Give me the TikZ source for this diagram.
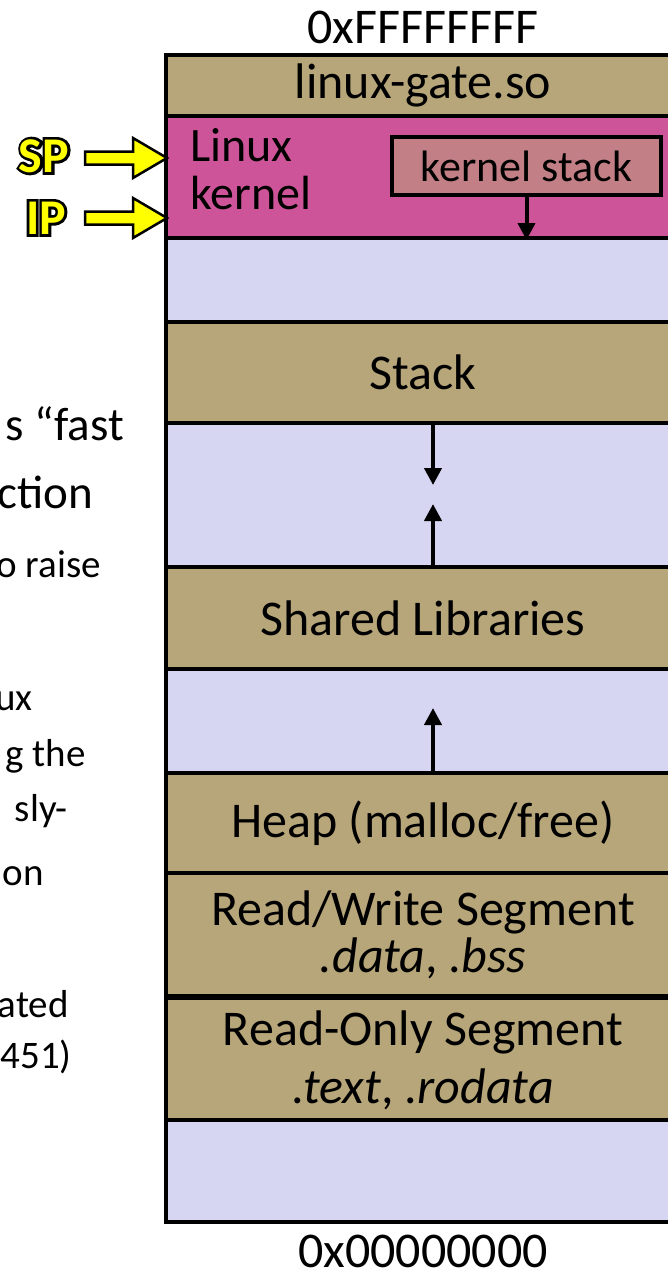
\documentclass[tikz,border=0pt]{standalone}
\usepackage{fontspec}
\setmainfont{Carlito}
\newfontface\outlineface[FakeBold=11]{Carlito Bold}
\usetikzlibrary{arrows.meta,calc}
\definecolor{tanc}{RGB}{183,166,122}
\definecolor{magc}{RGB}{206,84,153}
\definecolor{kstc}{RGB}{194,128,134}
\definecolor{lavc}{RGB}{214,214,242}
\definecolor{yelc}{RGB}{255,255,0}
\begin{document}
\begin{tikzpicture}[x=1pt,y=-1pt,
  row/.style={draw=black, line width=4pt, minimum width=514pt, inner sep=0pt,
    font=\fontsize{50}{47}\selectfont, align=center},
  arr/.style={line width=4pt, -{Triangle[length=17pt,width=17pt]}},
  bigtxt/.style={inner sep=0pt, anchor=base east, font=\fontsize{47}{50}\selectfont},
  smalltxt/.style={inner sep=0pt, anchor=base east, font=\fontsize{39}{42}\selectfont},
  yarrow/.style={draw=black, fill=yelc, line width=2.5pt, line join=miter},
  reglabel/.style={text=yelc, inner sep=0pt, font=\fontsize{50}{50}\selectfont\bfseries},
  regshadow/.style={text=black, inner sep=0pt, font=\fontsize{50}{50}\selectfont\outlineface}
]
\useasboundingbox (0,0) rectangle (668,1272);
\fill[white] (0,0) rectangle (668,1272);
\clip (0,0) rectangle (668,1272);

% memory rows
\node[row, fill=tanc, minimum height=61pt] (gate) at (423,85.5) {linux-gate.so};
\node[row, fill=magc, minimum height=122pt] (kernel) at (423,177) {};
\node[row, fill=lavc, minimum height=84pt] (gap1) at (423,280) {};
\node[row, fill=tanc, minimum height=101pt] (stack) at (423,372.5) {Stack};
\node[row, fill=lavc, minimum height=144pt] (gap2) at (423,495) {};
\node[row, fill=tanc, minimum height=102pt] (shlib) at (423,618) {Shared Libraries};
\node[row, fill=lavc, minimum height=104pt] (gap3) at (423,721) {};
\node[row, fill=tanc, minimum height=100pt] (heap) at (423,823) {Heap (malloc/free)};
\node[row, fill=tanc, minimum height=123pt] (rw) at (423,934.5) {Read/Write Segment\\\textit{.data}, \textit{.bss}};
\node[row, fill=tanc, minimum height=124pt, font=\fontsize{50}{58}\selectfont] (ro) at (423,1060) {Read-Only Segment\\\textit{.text}, \textit{.rodata}};
\node[row, fill=lavc, minimum height=102pt] (gap4) at (423,1171) {};

% kernel contents
\node[inner sep=0pt, anchor=north west, align=left, font=\fontsize{48}{48}\selectfont] (klabel) at (190,128) {Linux\\kernel};
\node[draw=black, line width=3.5pt, fill=kstc, minimum width=269pt, minimum height=58pt, inner sep=0pt,
  font=\fontsize{44}{44}\selectfont] (kstack) at (526.5,166) {kernel stack};
\draw[arr] (kstack.south) -- (kstack.south |- kernel.south);

% growth arrows
\draw[arr] ([xshift=10pt]stack.south) -- ++(0,60);
\draw[arr] ([xshift=10pt]shlib.north) -- ++(0,-61);
\draw[arr] ([xshift=10pt]heap.north) -- ++(0,-63);

% addresses
\node[inner sep=0pt, font=\fontsize{50}{50}\selectfont] (top) at (423,27) {0xFFFFFFFF};
\node[inner sep=0pt, font=\fontsize{50}{50}\selectfont] (bot) at (423,1251) {0x00000000};

% SP / IP
\node[regshadow] (spshadow) at (44,156) {SP};
\node[reglabel] (sp) at (44,156) {SP};
\node[regshadow] (ipshadow) at (46,218) {IP};
\node[reglabel] (ip) at (46,218) {IP};
\coordinate (sptip) at (167,158);
\coordinate (iptip) at (167,218);
\draw[yarrow, shift={(sptip)}] (-82,-6.5) -- (-34,-6.5) -- (-34,-20) -- (0,0) -- (-34,20) -- (-34,6.5) -- (-82,6.5) -- cycle;
\draw[yarrow, shift={(iptip)}] (-82,-6.5) -- (-34,-6.5) -- (-34,-20) -- (0,0) -- (-34,20) -- (-34,6.5) -- (-82,6.5) -- cycle;

% cut-off slide text on the left
\node[bigtxt] (t1) at (124,440) {s “fast};
\node[bigtxt] (t2) at (93,508) {ction};
\node[smalltxt] (t3) at (101,577) {o raise};
\node[smalltxt] (t4) at (33,710) {ux};
\node[smalltxt] (t5) at (86,766) {g the};
\node[smalltxt] (t6) at (68,821) {sly-};
\node[smalltxt] (t7) at (44,885) {on};
\node[smalltxt] (t8) at (69,1017) {ated};
\node[smalltxt] (t9) at (72,1068) {451)};
\end{tikzpicture}
\end{document}
